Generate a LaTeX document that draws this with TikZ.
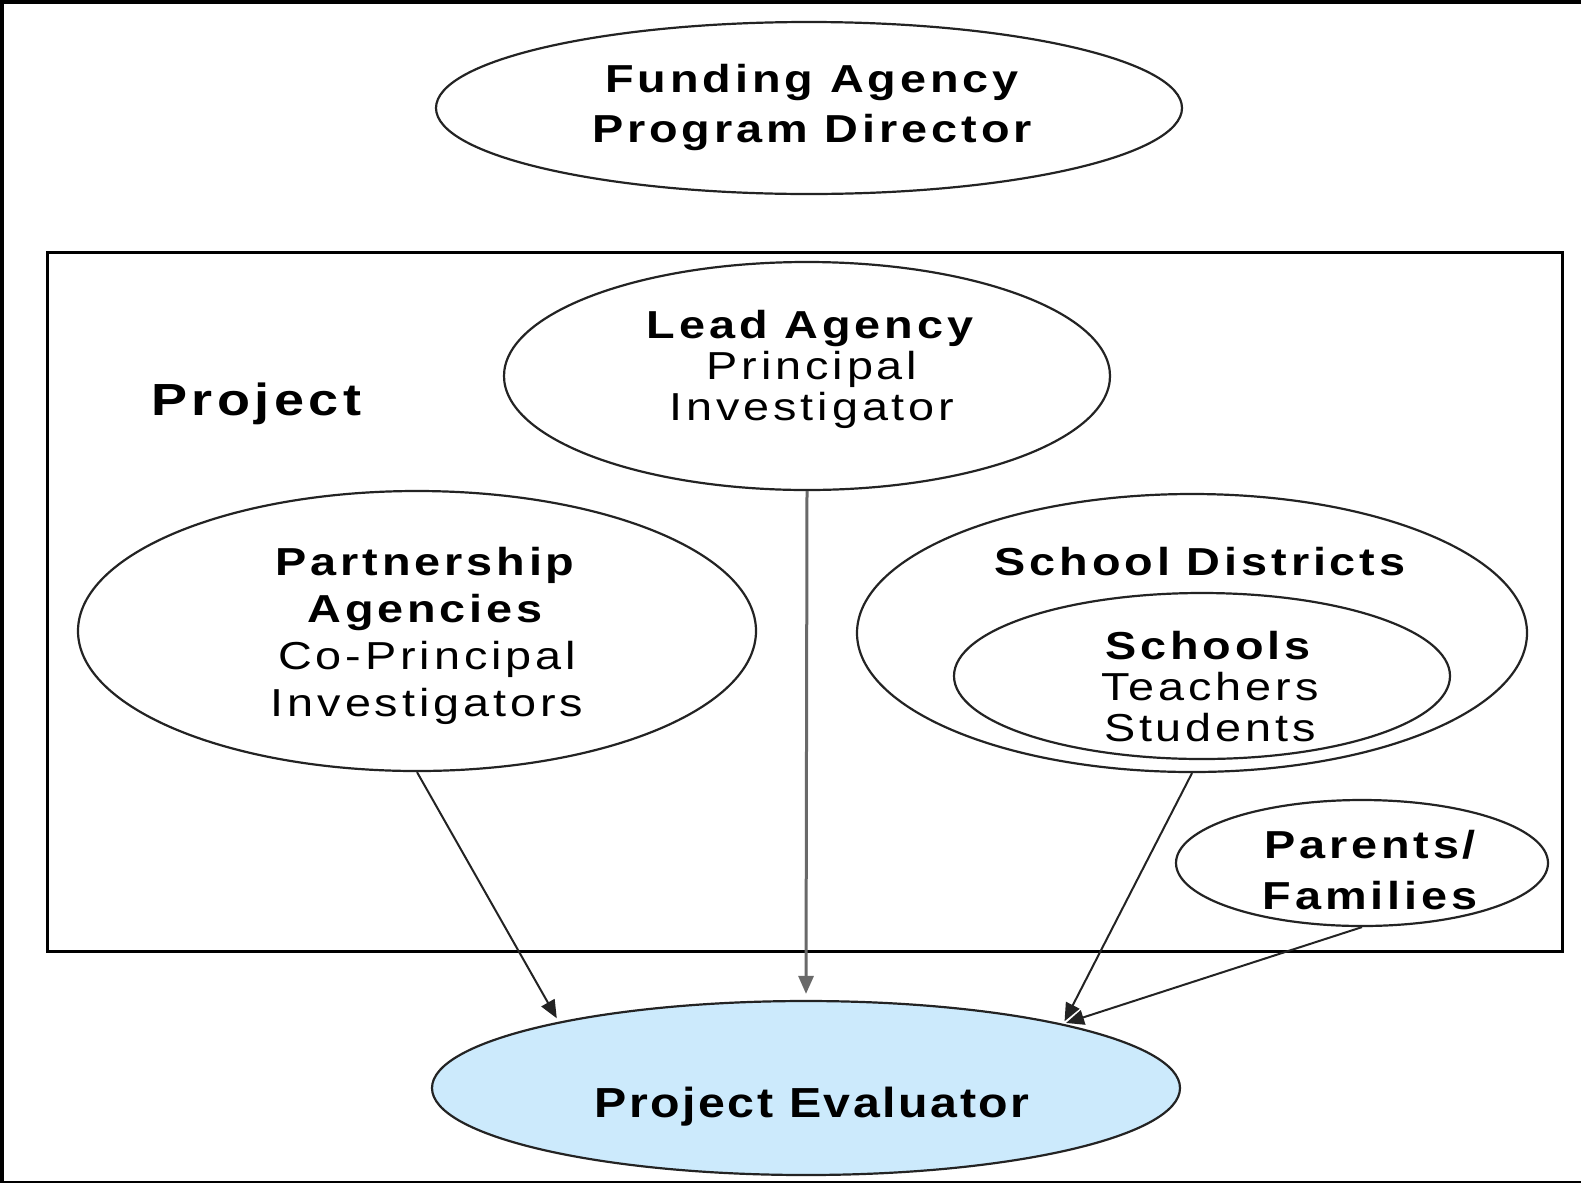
\documentclass[tikz,border=0pt]{standalone}
\usepackage{fontspec}
\setmainfont{Liberation Sans}
\newfontfamily\pix[LetterSpace=10,FakeStretch=1.2]{Liberation Sans}
\newfontfamily\evf[LetterSpace=6,FakeStretch=1.15]{Liberation Sans}
\usetikzlibrary{shapes.geometric,arrows.meta}
\definecolor{evblue}{RGB}{204,234,252}
\definecolor{edgec}{RGB}{35,35,35}
\definecolor{leadc}{RGB}{105,105,105}
\begin{document}
\begin{tikzpicture}[x=1pt,y=-1pt,
  ell/.style={ellipse, draw=edgec, line width=2.2pt, inner sep=0pt},
  lbl/.style={align=center, inner sep=0pt},
  arr/.style={draw=edgec, line width=2pt, -{Triangle[length=18pt,width=15pt]}}]
\useasboundingbox (0,0) rectangle (1581,1184);
% outer frame (open on the right)
\draw[line width=4pt] (1581,2) -- (2,2) -- (2,1182);
\draw[line width=2pt] (0,1182) -- (1581,1182);
% project box
\node[draw, line width=3pt, inner sep=0pt, minimum width=1515pt, minimum height=699pt] (projbox) at (804.5,601.5) {};
% ellipses
\node[ell, minimum width=746pt, minimum height=172pt] (fund) at (809,108) {};
\node[ell, minimum width=606pt, minimum height=228pt] (lead) at (807,376) {};
\node[ell, minimum width=678pt, minimum height=280pt] (part) at (417,631) {};
\node[ell, minimum width=670pt, minimum height=278pt] (sd) at (1192,633) {};
\node[ell, minimum width=496pt, minimum height=166pt] (sch) at (1202,676) {};
\node[ell, minimum width=372pt, minimum height=126pt] (par) at (1362,863) {};
\node[ell, fill=evblue, minimum width=748pt, minimum height=174pt] (ev) at (806,1088) {};
% texts
\node[lbl, font=\pix\bfseries\fontsize{39}{50}\selectfont] (tfund) at (812,107) {Funding Agency\\Program Director};
\node[anchor=west, inner sep=0pt, font=\pix\bfseries\fontsize{45}{50}\selectfont] (tproj) at (151,404) {Project};
\node[lbl, font=\pix\fontsize{39}{41}\selectfont] (tlead) at (812,369) {\textbf{Lead Agency}\\Principal\\Investigator};
\node[lbl, font=\pix\fontsize{39}{47}\selectfont] (tpart) at (427,636) {\textbf{Partnership}\\\textbf{Agencies}\\Co-Principal\\Investigators};
\node[lbl, font=\pix\bfseries\fontsize{39}{41}\selectfont] (tsd) at (1200,562) {School Districts};
\node[lbl, font=\pix\fontsize{39}{41}\selectfont] (tsch) at (1210,687) {\textbf{Schools}\\Teachers\\Students};
\node[lbl, font=\pix\bfseries\fontsize{39}{51}\selectfont] (tpar) at (1370,870) {Parents/\\Families};
\node[lbl, font=\evf\bfseries\fontsize{42}{46}\selectfont] (tev) at (812,1107) {Project Evaluator};
% connectors
\draw[arr, shorten >=4pt] (part.south) -- (ev.165);
\draw[arr, draw=leadc, line width=3pt, shorten >=6pt] (lead.south) -- (ev.north);
\draw[arr, shorten >=3pt] (sd.south) -- (ev.14);
\draw[arr, shorten >=3pt] (par.south) -- (ev.14);
\end{tikzpicture}
\end{document}
